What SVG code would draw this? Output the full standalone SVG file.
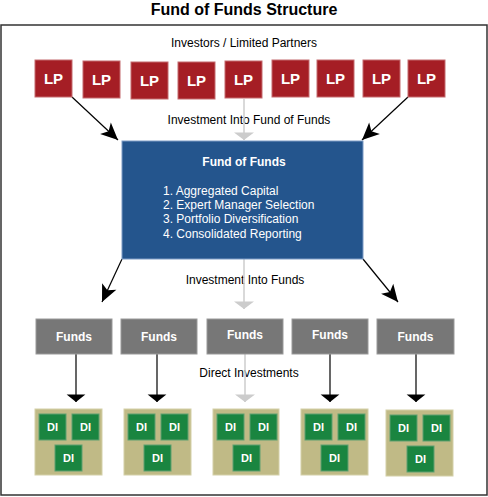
<svg xmlns="http://www.w3.org/2000/svg" width="488" height="497" viewBox="0 0 488 497">
<style>
text{font-family:"Liberation Sans",Arial,sans-serif;}
.lbl{font-size:12px;fill:#000;text-anchor:middle;}
.lp rect{fill:#A51E25;stroke:#C46A6E;stroke-width:1;}
.lp text{font-size:15px;font-weight:bold;fill:#fff;text-anchor:middle;}
.fund rect{fill:#777777;stroke:#9a9a9a;stroke-width:1;}
.fund text{font-size:12px;font-weight:bold;fill:#fff;text-anchor:middle;}
.cont{fill:#C0BA86;stroke:#D4D0A8;stroke-width:1;}
.di{fill:#1A8540;stroke:#5E9F70;stroke-width:1;}
.dit{font-size:11px;font-weight:bold;fill:#fff;text-anchor:middle;}
.blk{stroke:#000;stroke-width:1.2;fill:none;}
.gry{stroke:#CCCCCC;stroke-width:1.5;fill:none;}
</style>
<defs>
<marker id="ac" markerUnits="userSpaceOnUse" markerWidth="20" markerHeight="20" refX="12" refY="0" orient="auto" viewBox="0 -6 14 12" overflow="visible">
<path d="M0,-5.5 L12,0 L0,5.5 L3,0 Z" fill="#000"/>
</marker>
<marker id="bb" markerUnits="userSpaceOnUse" markerWidth="20" markerHeight="20" refX="6" refY="0" orient="auto" viewBox="0 -8 7 16" overflow="visible">
<path d="M0,-7.5 L6,0 L0,7.5 Z" fill="#000"/>
</marker>
<marker id="bg" markerUnits="userSpaceOnUse" markerWidth="20" markerHeight="20" refX="6" refY="0" orient="auto" viewBox="0 -8 7 16" overflow="visible">
<path d="M0,-8 L6,0 L0,8 Z" fill="#CCCCCC"/>
</marker>
</defs>
<rect width="488" height="497" fill="#fff"/>
<text x="244" y="15" style="font-size:16px;font-weight:bold;text-anchor:middle;">Fund of Funds Structure</text>
<rect x="1" y="25" width="486" height="470" fill="none" stroke="#333" stroke-width="1.5"/>
<text class="lbl" x="244" y="47">Investors / Limited Partners</text>
<text class="lbl" x="249" y="124">Investment Into Fund of Funds</text>
<text class="lbl" x="245" y="284">Investment Into Funds</text>
<text class="lbl" x="249" y="377">Direct Investments</text>

<g id="connectors">
<line class="gry" x1="244" y1="99" x2="244" y2="140" marker-end="url(#bg)"/>
<line class="blk" x1="72" y1="97" x2="118" y2="140" marker-end="url(#ac)"/>
<line class="blk" x1="408" y1="97" x2="362" y2="140" marker-end="url(#ac)"/>
<line class="gry" x1="244" y1="259" x2="244" y2="309" marker-end="url(#bg)"/>
<line class="blk" x1="122" y1="259" x2="102" y2="302" marker-end="url(#ac)"/>
<line class="blk" x1="363" y1="259" x2="398" y2="302" marker-end="url(#ac)"/>
<line class="blk" x1="76" y1="354" x2="76" y2="402" marker-end="url(#bb)"/>
<line class="blk" x1="157" y1="354" x2="157" y2="402" marker-end="url(#bb)"/>
<line class="gry" x1="245" y1="354" x2="245" y2="402" marker-end="url(#bg)"/>
<line class="blk" x1="330" y1="354" x2="330" y2="402" marker-end="url(#bb)"/>
<line class="blk" x1="416" y1="354" x2="416" y2="402" marker-end="url(#bb)"/>
</g>

<g id="lp1" class="lp"><rect x="35" y="60" width="37" height="37"/><text x="53.5" y="84">LP</text></g>
<g id="lp2" class="lp"><rect x="83" y="61" width="37" height="37"/><text x="101.5" y="85">LP</text></g>
<g id="lp3" class="lp"><rect x="131" y="62" width="37" height="37"/><text x="149.5" y="86">LP</text></g>
<g id="lp4" class="lp"><rect x="178" y="62" width="37" height="37"/><text x="196.5" y="86">LP</text></g>
<g id="lp5" class="lp"><rect x="225" y="61" width="37" height="37"/><text x="243.5" y="85">LP</text></g>
<g id="lp6" class="lp"><rect x="272" y="60" width="37" height="37"/><text x="290.5" y="84">LP</text></g>
<g id="lp7" class="lp"><rect x="317" y="60" width="37" height="37"/><text x="335.5" y="84">LP</text></g>
<g id="lp8" class="lp"><rect x="363" y="60" width="37" height="37"/><text x="381.5" y="84">LP</text></g>
<g id="lp9" class="lp"><rect x="408" y="60" width="37" height="37"/><text x="426.5" y="84">LP</text></g>

<g id="fof">
<rect x="122" y="141" width="241" height="118" fill="#24558D" stroke="#7C9CC6" stroke-width="1"/>
<text x="244" y="166" style="font-size:12px;font-weight:bold;fill:#fff;text-anchor:middle;">Fund of Funds</text>
<g style="font-size:12px;fill:#fff;">
<text x="163" y="195">1. Aggregated Capital</text>
<text x="163" y="209">2. Expert Manager Selection</text>
<text x="163" y="223">3. Portfolio Diversification</text>
<text x="163" y="238">4. Consolidated Reporting</text>
</g>
</g>

<g id="fund1" class="fund"><rect x="36" y="319" width="76" height="35"/><text x="74" y="341">Funds</text></g>
<g id="fund2" class="fund"><rect x="121" y="319" width="76" height="35"/><text x="159" y="341">Funds</text></g>
<g id="fund3" class="fund"><rect x="207" y="319" width="76" height="35"/><text x="245" y="339">Funds</text></g>
<g id="fund4" class="fund"><rect x="292" y="319" width="76" height="35"/><text x="330" y="339">Funds</text></g>
<g id="fund5" class="fund"><rect x="377" y="319" width="77" height="35"/><text x="415.5" y="341">Funds</text></g>

<g id="dig1"><rect class="cont" x="35" y="409" width="67" height="66"/>
<rect class="di" x="39" y="414" width="27" height="26"/><text class="dit" x="52.5" y="431">DI</text>
<rect class="di" x="72" y="414" width="27" height="26"/><text class="dit" x="85.5" y="431">DI</text>
<rect class="di" x="55" y="445" width="27" height="26"/><text class="dit" x="68.5" y="462">DI</text></g>
<g id="dig2"><rect class="cont" x="124" y="409" width="67" height="66"/>
<rect class="di" x="128" y="414" width="27" height="26"/><text class="dit" x="141.5" y="431">DI</text>
<rect class="di" x="161" y="414" width="27" height="26"/><text class="dit" x="174.5" y="431">DI</text>
<rect class="di" x="144" y="445" width="27" height="26"/><text class="dit" x="157.5" y="462">DI</text></g>
<g id="dig3"><rect class="cont" x="213" y="409" width="66" height="66"/>
<rect class="di" x="217" y="414" width="27" height="26"/><text class="dit" x="230.5" y="431">DI</text>
<rect class="di" x="250" y="414" width="27" height="26"/><text class="dit" x="263.5" y="431">DI</text>
<rect class="di" x="233" y="445" width="27" height="26"/><text class="dit" x="246.5" y="462">DI</text></g>
<g id="dig4"><rect class="cont" x="301" y="409" width="67" height="66"/>
<rect class="di" x="305" y="414" width="27" height="26"/><text class="dit" x="318.5" y="431">DI</text>
<rect class="di" x="338" y="414" width="27" height="26"/><text class="dit" x="351.5" y="431">DI</text>
<rect class="di" x="321" y="445" width="27" height="26"/><text class="dit" x="334.5" y="462">DI</text></g>
<g id="dig5"><rect class="cont" x="386" y="410" width="67" height="66"/>
<rect class="di" x="390" y="415" width="27" height="26"/><text class="dit" x="403.5" y="432">DI</text>
<rect class="di" x="423" y="415" width="27" height="26"/><text class="dit" x="436.5" y="432">DI</text>
<rect class="di" x="407" y="446" width="27" height="26"/><text class="dit" x="420.5" y="463">DI</text></g>
</svg>
